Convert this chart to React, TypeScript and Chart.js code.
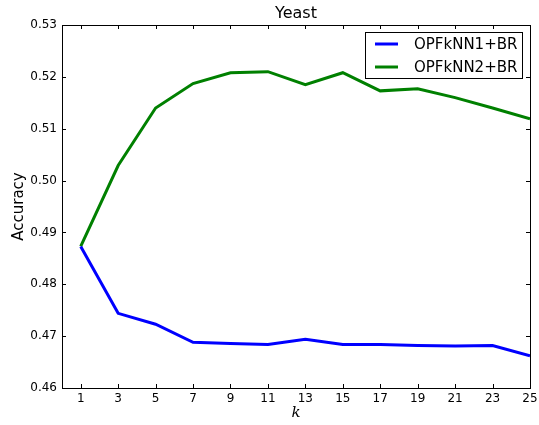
import React, { useEffect, useRef } from "react";
import { Chart, registerables } from "chart.js";

Chart.register(...registerables);

const kValues = [1, 3, 5, 7, 9, 11, 13, 15, 17, 19, 21, 23, 25];
const opf1 = [0.4873, 0.4744, 0.4723, 0.4688, 0.4686, 0.4684, 0.4694, 0.4684, 0.4684, 0.4682, 0.4681, 0.4682, 0.4662];
const opf2 = [0.4873, 0.5029, 0.5140, 0.5187, 0.5208, 0.5210, 0.5185, 0.5208, 0.5173, 0.5177, 0.5160, 0.5140, 0.5119];
const seriesNames = ["OPFkNN1+BR", "OPFkNN2+BR"];
const seriesColors = ["#0000ff", "#008000"];
const chartTitle = "Yeast";
const xTitle = "k";
const yTitle = "Accuracy";
const yTicks = [0.46, 0.47, 0.48, 0.49, 0.5, 0.51, 0.52, 0.53];

const framePlugin = {
  id: "frame",
  afterDraw(chart: any) {
    const ctx = chart.ctx;
    const { left, right, top, bottom } = chart.chartArea;
    const xs = chart.scales.x;
    const ys = chart.scales.y;
    ctx.save();
    ctx.strokeStyle = "#000";
    ctx.lineWidth = 1;
    ctx.strokeRect(Math.round(left) + 0.5, Math.round(top) + 0.5, Math.round(right - left), Math.round(bottom - top));
    const tl = 4;
    ctx.beginPath();
    for (const k of kValues) {
      const px = Math.round(xs.getPixelForValue(k)) + 0.5;
      ctx.moveTo(px, bottom);
      ctx.lineTo(px, bottom - tl);
      ctx.moveTo(px, top);
      ctx.lineTo(px, top + tl);
    }
    for (const v of yTicks) {
      const py = Math.round(ys.getPixelForValue(v)) + 0.5;
      ctx.moveTo(left, py);
      ctx.lineTo(left + tl, py);
      ctx.moveTo(right, py);
      ctx.lineTo(right - tl, py);
    }
    ctx.stroke();

    // title
    ctx.fillStyle = "#000";
    ctx.font = "16px 'DejaVu Sans'";
    ctx.textAlign = "center";
    ctx.textBaseline = "middle";
    ctx.fillText(chartTitle, (left + right) / 2, 14);

    // legend
    const lx = 365, ly = 32, lw = 157, lh = 46;
    ctx.fillStyle = "#fff";
    ctx.fillRect(lx, ly, lw, lh);
    ctx.strokeStyle = "#000";
    ctx.lineWidth = 1;
    ctx.strokeRect(lx + 0.5, ly + 0.5, lw, lh);
    ctx.font = "15px 'DejaVu Sans'";
    ctx.textAlign = "left";
    ctx.textBaseline = "middle";
    chart.data.datasets.forEach((ds: any, i: number) => {
      const y = 44 + i * 23;
      ctx.strokeStyle = ds.borderColor;
      ctx.lineWidth = 3;
      ctx.beginPath();
      ctx.moveTo(375, y);
      ctx.lineTo(398, y);
      ctx.stroke();
      ctx.fillStyle = "#000";
      ctx.fillText(ds.label, 414, y + 1);
    });
    ctx.restore();
  },
};

export default function App() {
  const ref = useRef<HTMLCanvasElement>(null);
  useEffect(() => {
    if (!ref.current) return;
    const chart = new Chart(ref.current, {
      type: "line",
      data: {
        datasets: [
          { label: seriesNames[0], data: kValues.map((k, i) => ({ x: k, y: opf1[i] })), borderColor: seriesColors[0], backgroundColor: seriesColors[0], borderWidth: 3, pointRadius: 0, tension: 0 },
          { label: seriesNames[1], data: kValues.map((k, i) => ({ x: k, y: opf2[i] })), borderColor: seriesColors[1], backgroundColor: seriesColors[1], borderWidth: 3, pointRadius: 0, tension: 0 },
        ],
      },
      options: {
        animation: false,
        responsive: false,
        layout: { padding: { top: 25, right: 9, left: 0, bottom: 0 } },
        plugins: { legend: { display: false }, title: { display: false }, tooltip: { enabled: false } },
        scales: {
          x: {
            type: "linear",
            min: 0,
            max: 25,
            grid: { display: false, drawTicks: false },
            border: { display: false },
            afterBuildTicks: (s: any) => { s.ticks = kValues.map((v) => ({ value: v })); },
            afterFit: (s: any) => { s.height = 37; s.paddingRight = 0; },
            ticks: { color: "#000", font: { family: "'DejaVu Sans'", size: 12 }, padding: 4, maxRotation: 0, autoSkip: false, callback: (v: any) => String(v) },
            title: { display: true, text: xTitle, color: "#000", font: { family: "'DejaVu Serif'", size: 15, style: "italic" }, padding: { top: 0, bottom: 3 } },
          },
          y: {
            min: 0.46,
            max: 0.53,
            grid: { display: false, drawTicks: false },
            border: { display: false },
            afterBuildTicks: (s: any) => { s.ticks = yTicks.map((v) => ({ value: v })); },
            afterFit: (s: any) => { s.width = 62; },
            ticks: { color: "#000", font: { family: "'DejaVu Sans'", size: 12 }, padding: 5, callback: (v: any) => Number(v).toFixed(2) },
            title: { display: true, text: yTitle, color: "#000", font: { family: "'DejaVu Sans'", size: 15 }, padding: { top: 10, bottom: 0 } },
          },
        },
      },
      plugins: [framePlugin],
    });
    return () => chart.destroy();
  }, []);
  return (
    <div style={{ position: "fixed", left: 0, top: 0, width: 539, height: 425, background: "#fff" }}>
      <canvas ref={ref} width={539} height={425} style={{ width: 539, height: 425 }} />
    </div>
  );
}
